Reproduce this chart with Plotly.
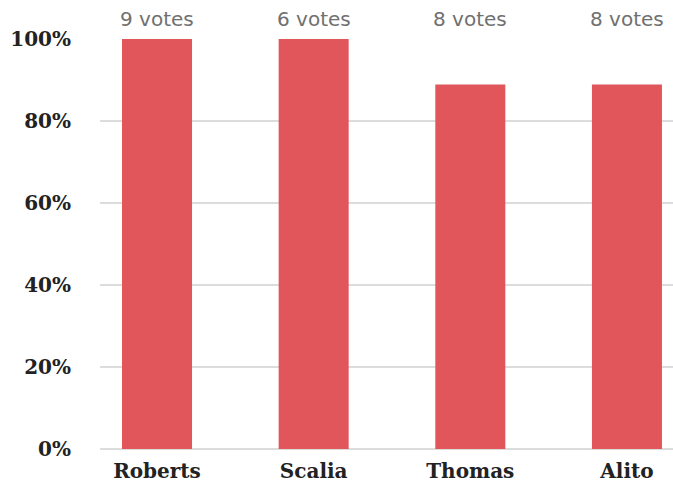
import plotly.graph_objects as go

justices = ["Roberts", "Scalia", "Thomas", "Alito"]
share_pct = [100, 100, 88.9, 88.9]
vote_labels = ["9 votes", "6 votes", "8 votes", "8 votes"]
y_ticks = [0, 20, 40, 60, 80, 100]
y_tick_text = ["0%", "20%", "40%", "60%", "80%", "100%"]

BAR_COLOR = "#E1565A"
GRID_COLOR = "#DCDCDC"
TICK_FONT = dict(family="DejaVu Serif, serif", size=20, color="#222222", weight="bold")

fig = go.Figure(
    go.Bar(
        x=list(range(len(justices))),
        y=share_pct,
        marker=dict(color=BAR_COLOR, line=dict(width=0)),
        width=0.447,
        hoverinfo="skip",
    )
)

for i, label in enumerate(vote_labels):
    fig.add_annotation(
        x=i, y=100, text=label, showarrow=False,
        yanchor="bottom", yshift=6,
        font=dict(family="DejaVu Sans, sans-serif", size=20, color="#707070"),
    )

fig.update_layout(
    width=673, height=484,
    margin=dict(l=100, r=0, t=39, b=35),
    paper_bgcolor="white", plot_bgcolor="white",
    showlegend=False,
    xaxis=dict(
        range=[-0.364, 3.294],
        tickmode="array", tickvals=list(range(len(justices))), ticktext=justices,
        tickfont=TICK_FONT, showgrid=False, zeroline=False, showline=False,
        ticks="", ticklabelstandoff=8,
    ),
    yaxis=dict(
        range=[0, 100],
        tickmode="array", tickvals=y_ticks, ticktext=y_tick_text,
        tickfont=TICK_FONT, showgrid=True, gridcolor=GRID_COLOR, gridwidth=1.5,
        zeroline=True, zerolinecolor=GRID_COLOR, zerolinewidth=2,
        showline=False, ticks="", ticklabelstandoff=28,
    ),
)

fig.write_html("out.html")
